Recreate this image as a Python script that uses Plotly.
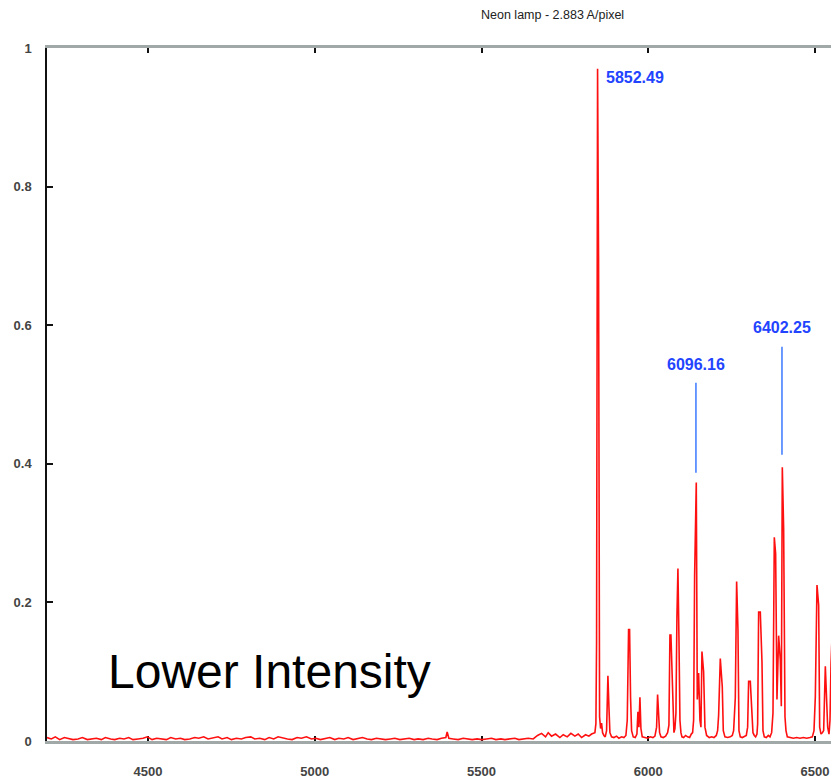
import plotly.graph_objects as go

# ---------------- data ----------------
title_text = "Neon lamp - 2.883 A/pixel"
note_text = "Lower Intensity"

x_ticks = [4500, 5000, 5500, 6000, 6500]
y_ticks = [0, 0.2, 0.4, 0.6, 0.8, 1]
y_tick_labels = ["0", "0.2", "0.4", "0.6", "0.8", "1"]

# quiet part of the spectrum (wavelength in Angstrom, relative intensity)
baseline_wl = [4197, 4210, 4222, 4235, 4249, 4262, 4275, 4290, 4303, 4318,
               4330, 4345, 4360, 4372, 4388, 4400, 4415, 4428, 4442, 4455,
               4470, 4485, 4498, 4512, 4526, 4540, 4555, 4568, 4583, 4597,
               4610, 4625, 4640, 4652, 4667, 4680, 4695, 4710, 4722, 4737,
               4750, 4765, 4780, 4793, 4808, 4820, 4835, 4850, 4863, 4877,
               4890, 4905, 4918, 4932, 4947, 4960, 4975, 4990, 5003, 5017,
               5030, 5045, 5060, 5072, 5087, 5100, 5115, 5130, 5143, 5157,
               5170, 5185, 5200, 5212, 5227, 5240, 5255, 5270, 5283, 5298,
               5310, 5325, 5340, 5352, 5367, 5380, 5393, 5397, 5402, 5415,
               5430, 5445, 5458, 5472, 5487, 5500, 5515, 5530, 5543, 5558,
               5570, 5585, 5600, 5612, 5627, 5640, 5655, 5668, 5680, 5692,
               5700, 5710, 5722, 5735, 5745, 5757, 5768, 5780, 5790, 5800,
               5812, 5822, 5830, 5836]
baseline_int = [0.005, 0.003, 0.006, 0.002, 0.005, 0.004, 0.002, 0.003, 0.005, 0.002,
                0.003, 0.004, 0.002, 0.005, 0.003, 0.002, 0.004, 0.003, 0.005, 0.002,
                0.003, 0.004, 0.006, 0.002, 0.004, 0.003, 0.002, 0.005, 0.003, 0.004,
                0.002, 0.003, 0.005, 0.004, 0.006, 0.003, 0.005, 0.006, 0.003, 0.005,
                0.002, 0.004, 0.003, 0.005, 0.006, 0.003, 0.004, 0.002, 0.005, 0.003,
                0.006, 0.004, 0.003, 0.002, 0.005, 0.004, 0.006, 0.003, 0.004, 0.002,
                0.003, 0.005, 0.002, 0.004, 0.003, 0.005, 0.002, 0.004, 0.005, 0.003,
                0.002, 0.004, 0.003, 0.002, 0.003, 0.004, 0.002, 0.003, 0.004, 0.002,
                0.003, 0.002, 0.004, 0.003, 0.002, 0.004, 0.005, 0.013, 0.004, 0.003,
                0.002, 0.004, 0.003, 0.002, 0.003, 0.002, 0.003, 0.004, 0.002, 0.003,
                0.002, 0.003, 0.004, 0.002, 0.003, 0.004, 0.003, 0.008, 0.011, 0.006,
                0.012, 0.007, 0.010, 0.005, 0.009, 0.006, 0.011, 0.007, 0.010, 0.005,
                0.009, 0.007, 0.010, 0.011]

# emission-line region
lines_wl = [5840, 5843, 5845, 5848, 5851, 5854, 5857, 5860, 5863, 5867,
            5871, 5875, 5879, 5882, 5885, 5890, 5897, 5905, 5912, 5920,
            5927, 5933, 5937, 5941, 5944, 5947, 5950, 5955, 5961, 5966,
            5969, 5972, 5975, 5978, 5982, 5990, 5998, 6006, 6014, 6020,
            6025, 6028, 6031, 6034, 6038, 6045, 6052, 6058, 6062, 6065,
            6068, 6071, 6074, 6077, 6080, 6083, 6086, 6089, 6092, 6095,
            6098, 6101, 6106, 6112, 6118, 6124, 6129, 6133, 6136, 6139,
            6144, 6147, 6151, 6155, 6158, 6161, 6166, 6170, 6175, 6183,
            6190, 6197, 6204, 6208, 6211, 6216, 6222, 6225, 6230, 6238,
            6246, 6252, 6256, 6261, 6265, 6269, 6272, 6276, 6282, 6288,
            6294, 6298, 6301, 6306, 6311, 6314, 6318, 6322, 6326, 6328,
            6331, 6336, 6341, 6344, 6348, 6354, 6360, 6365, 6370, 6374,
            6378, 6382, 6386, 6391, 6396, 6399, 6402, 6406, 6410, 6413,
            6417, 6425, 6435, 6445, 6455, 6465, 6475, 6485, 6492, 6497,
            6501, 6506, 6511, 6514, 6518, 6522, 6526, 6531, 6535, 6538,
            6542, 6545, 6548, 6551]
lines_int = [0.012, 0.025, 0.142, 0.970, 0.694, 0.035, 0.018, 0.026, 0.012, 0.008,
             0.006, 0.015, 0.094, 0.050, 0.012, 0.006, 0.005, 0.007, 0.004, 0.006,
             0.005, 0.008, 0.030, 0.161, 0.161, 0.062, 0.015, 0.006, 0.005, 0.010,
             0.042, 0.020, 0.063, 0.018, 0.006, 0.005, 0.004, 0.006, 0.005, 0.007,
             0.020, 0.067, 0.035, 0.012, 0.006, 0.005, 0.007, 0.012, 0.023, 0.153,
             0.153, 0.100, 0.030, 0.012, 0.018, 0.040, 0.180, 0.249, 0.150, 0.030,
             0.012, 0.006, 0.005, 0.008, 0.006, 0.005, 0.010, 0.012, 0.030, 0.238,
             0.373, 0.060, 0.098, 0.030, 0.020, 0.129, 0.100, 0.020, 0.008, 0.005,
             0.006, 0.005, 0.008, 0.015, 0.037, 0.119, 0.078, 0.015, 0.006, 0.005,
             0.006, 0.008, 0.015, 0.062, 0.230, 0.160, 0.015, 0.006, 0.005, 0.006,
             0.008, 0.020, 0.086, 0.086, 0.035, 0.012, 0.008, 0.006, 0.010, 0.025,
             0.186, 0.186, 0.115, 0.015, 0.006, 0.005, 0.008, 0.006, 0.012, 0.040,
             0.294, 0.270, 0.060, 0.152, 0.117, 0.050, 0.395, 0.306, 0.035, 0.015,
             0.006, 0.005, 0.004, 0.005, 0.004, 0.005, 0.004, 0.005, 0.006, 0.015,
             0.064, 0.225, 0.196, 0.020, 0.010, 0.012, 0.015, 0.108, 0.064, 0.020,
             0.010, 0.030, 0.110, 0.150]

# identified-line labels
label_texts = ["5852.49", "6096.16", "6402.25"]
label_wl = [5866, 6143, 6401]
label_y = [0.958, 0.543, 0.596]
leader_top = [None, 0.517, 0.569]
leader_bottom = [None, 0.387, 0.413]

# ---------------- figure ----------------
assert len(baseline_wl) == len(baseline_int)
assert len(lines_wl) == len(lines_int)
wavelength = baseline_wl + lines_wl
intensity = baseline_int + lines_int

fig = go.Figure()
fig.add_trace(go.Scatter(
    x=wavelength, y=intensity, mode="lines",
    line=dict(color="#ff1010", width=1.6),
    hoverinfo="skip", showlegend=False,
))

FONT = "Liberation Sans, Arial, sans-serif"
tick_font = dict(family=FONT, size=13, color="#444444", weight="bold")

fig.update_layout(
    width=831, height=782,
    margin=dict(l=47, r=0, t=48, b=41),
    paper_bgcolor="white", plot_bgcolor="white",
    showlegend=False,
    xaxis=dict(
        range=[4197, 6548], showgrid=False, zeroline=False,
        tickmode="array", tickvals=x_ticks, ticktext=[str(v) for v in x_ticks],
        ticks="inside", ticklen=5, tickwidth=1.5, tickcolor="#111111",
        showline=True, linecolor="#a0a8a8", linewidth=3, mirror="ticks",
        tickfont=tick_font, ticklabelstandoff=16, layer="below traces",
    ),
    yaxis=dict(
        range=[0, 1], showgrid=False, zeroline=False,
        tickmode="array", tickvals=y_ticks, ticktext=y_tick_labels,
        ticks="inside", ticklen=6, tickwidth=1.5, tickcolor="#111111",
        showline=True, linecolor="#111111", linewidth=1.5,
        tickfont=tick_font, ticklabelstandoff=11, layer="below traces",
    ),
)

# title
fig.add_annotation(
    text=title_text, xref="paper", yref="paper",
    x=(552 - 47) / 784, y=(741 - 15) / 693, xanchor="center", yanchor="middle",
    showarrow=False, font=dict(family=FONT, size=12.5, color="#222222"),
)

# big note
fig.add_annotation(
    text=note_text, xref="paper", yref="paper",
    x=(106 - 47) / 784, y=(741 - 671) / 693, xanchor="left", yanchor="middle",
    showarrow=False, font=dict(family=FONT, size=48, color="#000000"),
)

# line labels and leader lines
for i, txt in enumerate(label_texts):
    fig.add_annotation(
        text="<b>" + txt + "</b>", x=label_wl[i], y=label_y[i],
        xref="x", yref="y", showarrow=False,
        xanchor="left" if leader_top[i] is None else "center", yanchor="middle",
        font=dict(family=FONT, size=16, color="#2244ff"),
    )
    if leader_top[i] is not None:
        fig.add_shape(
            type="line", xref="x", yref="y",
            x0=label_wl[i], x1=label_wl[i],
            y0=leader_bottom[i], y1=leader_top[i],
            line=dict(color="#3a78ff", width=1.5),
        )

# remove the default page margin so the figure fills the 831x782 window exactly
fig.write_html("out.html", config={"displayModeBar": False},
               post_script="document.body.style.margin='0';")
